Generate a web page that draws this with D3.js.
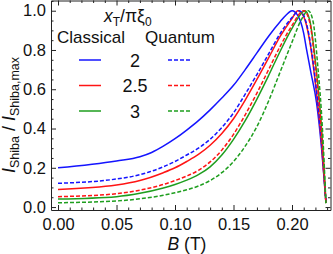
<!DOCTYPE html>
<html>
<head>
<meta charset="utf-8">
<script src="https://cdn.jsdelivr.net/npm/d3@7"></script>
<style>
  body { margin: 0; background: #fff; }
  svg { display: block; font-family: "Liberation Sans", Arial, sans-serif; }
</style>
</head>
<body>
<svg id="chart" width="333" height="254"></svg>
<script>
// B (T) vs normalised Shiba current, pairs of [B, I]
const classical2 = [[0,0.20],[0.05,0.235],[0.07,0.256],[0.08,0.278],[0.09,0.31],[0.10,0.348],[0.11,0.392],[0.12,0.44],[0.13,0.495],[0.14,0.555],[0.15,0.62],[0.16,0.70],[0.17,0.785],[0.18,0.87],[0.19,0.945],[0.195,0.978],[0.2,1.0],[0.205,0.975],[0.21,0.885],[0.2125,0.80],[0.216,0.69],[0.221,0.53],[0.2254,0.29],[0.229,0.03]];
const quantum2   = [[0,0.121],[0.05,0.143],[0.07,0.165],[0.09,0.205],[0.10,0.232],[0.11,0.265],[0.12,0.30],[0.13,0.345],[0.14,0.405],[0.15,0.48],[0.16,0.575],[0.17,0.675],[0.18,0.78],[0.19,0.885],[0.2,0.965],[0.206,1.0],[0.21,0.975],[0.215,0.86],[0.22,0.64],[0.225,0.35],[0.229,0.02]];
const classical25 = [[0,0.090],[0.05,0.112],[0.07,0.135],[0.09,0.175],[0.10,0.20],[0.11,0.232],[0.12,0.268],[0.13,0.315],[0.14,0.375],[0.15,0.45],[0.16,0.545],[0.17,0.65],[0.18,0.76],[0.19,0.87],[0.2,0.96],[0.205,1.0],[0.21,0.97],[0.215,0.85],[0.22,0.63],[0.225,0.34],[0.229,0.02]];
const quantum25  = [[0,0.053],[0.05,0.068],[0.07,0.086],[0.09,0.115],[0.10,0.135],[0.11,0.158],[0.12,0.187],[0.13,0.23],[0.14,0.29],[0.15,0.37],[0.16,0.47],[0.17,0.58],[0.18,0.70],[0.19,0.82],[0.2,0.925],[0.21,1.0],[0.215,0.945],[0.22,0.72],[0.225,0.40],[0.229,0.02]];
const classical3 = [[0,0.041],[0.05,0.053],[0.07,0.07],[0.09,0.097],[0.10,0.115],[0.11,0.137],[0.12,0.165],[0.13,0.205],[0.14,0.265],[0.15,0.345],[0.16,0.44],[0.17,0.55],[0.18,0.67],[0.19,0.795],[0.2,0.91],[0.211,1.0],[0.215,0.955],[0.22,0.74],[0.225,0.42],[0.229,0.02]];
const quantum3   = [[0,0.022],[0.05,0.031],[0.07,0.042],[0.09,0.06],[0.10,0.073],[0.11,0.088],[0.12,0.107],[0.13,0.135],[0.14,0.175],[0.15,0.232],[0.16,0.31],[0.17,0.41],[0.18,0.54],[0.19,0.69],[0.2,0.84],[0.208,0.955],[0.214,1.0],[0.218,0.945],[0.222,0.72],[0.226,0.40],[0.229,0.02]];

const ratios = ["2", "2.5", "3"];
const seriesColors = ["#1414ff", "#ff1414", "#1e9e1e"];
const classicalSeries = [classical2, classical25, classical3];
const quantumSeries = [quantum2, quantum25, quantum3];

const xMajor = [0, 0.05, 0.10, 0.15, 0.20];
const yMajor = [0, 0.2, 0.4, 0.6, 0.8, 1.0];

const svg = d3.select("#chart");
const x = d3.scaleLinear().domain([-0.006, 0.2329]).range([51, 330.5]);
const y = d3.scaleLinear().domain([-0.015, 1.052]).range([210, 0.5]);

const xMinor = d3.range(0, 0.2301, 0.01).filter(v => !xMajor.some(m => Math.abs(m - v) < 1e-6));
const yMinor = d3.range(0, 1.051, 0.05).filter(v => !yMajor.some(m => Math.abs(m - v) < 1e-6));

function frameAxis(axisFn, scale, pos, major, minor, labels, fmt) {
  const g = svg.append("g").attr("transform", pos);
  g.call(axisFn(scale).tickValues(major).tickSize(-5).tickSizeOuter(0)
      .tickPadding(labels ? (axisFn === d3.axisBottom ? 8 : 5) : 0)
      .tickFormat(labels ? d3.format(fmt) : ""));
  const gm = svg.append("g").attr("transform", pos);
  gm.call(axisFn(scale).tickValues(minor).tickSize(-2.5).tickSizeOuter(0).tickFormat(""));
  gm.select(".domain").remove();
  [g, gm].forEach(s => {
    s.selectAll("line").attr("stroke", "#222");
    s.select(".domain").attr("stroke", "#222");
    s.selectAll("text").attr("fill", "#111").style("font-size", "16.5px")
      .style("font-family", "Liberation Sans, Arial, sans-serif");
  });
}

// curves
const line = d3.line().x(d => x(d[0])).y(d => y(d[1])).curve(d3.curveMonotoneX);
const plot = svg.append("g");
classicalSeries.forEach((s, i) => {
  plot.append("path").attr("d", line(s)).attr("fill", "none")
    .attr("stroke", seriesColors[i]).attr("stroke-width", 1.5);
});
quantumSeries.forEach((s, i) => {
  plot.append("path").attr("d", line(s)).attr("fill", "none")
    .attr("stroke", seriesColors[i]).attr("stroke-width", 1.5)
    .attr("stroke-dasharray", "4,2");
});

frameAxis(d3.axisBottom, x, "translate(0,210)", xMajor, xMinor, true, ".2f");
frameAxis(d3.axisTop, x, "translate(0,0.5)", xMajor, xMinor, false);
frameAxis(d3.axisLeft, y, "translate(51,0)", yMajor, yMinor, true, ".1f");
frameAxis(d3.axisRight, y, "translate(330.5,0)", yMajor, yMinor, false);

// axis titles
const xt = svg.append("text").attr("x", 187).attr("y", 250).attr("text-anchor", "middle")
  .style("font-size", "17.5px").attr("fill", "#111");
xt.append("tspan").style("font-style", "italic").text("B");
xt.append("tspan").text(" (T)");

const yt = svg.append("text").attr("transform", "translate(15,115) rotate(-90)")
  .attr("text-anchor", "middle").style("font-size", "18px").attr("fill", "#111");
yt.append("tspan").style("font-style", "italic").text("I");
yt.append("tspan").attr("dy", 4).style("font-size", "12.5px").text("Shiba");
yt.append("tspan").attr("dy", -4).text(" / ");
yt.append("tspan").style("font-style", "italic").text("I");
yt.append("tspan").attr("dy", 4).style("font-size", "12.5px").text("Shiba,max");

// legend
const legend = svg.append("g").attr("fill", "#111");
const title = legend.append("text").attr("x", 104).attr("y", 22).style("font-size", "17.5px");
title.append("tspan").style("font-style", "italic").text("x");
title.append("tspan").attr("dy", 3.5).style("font-size", "12px").text("T");
title.append("tspan").attr("dy", -3.5).text("/πξ");
title.append("tspan").attr("dy", 3.5).style("font-size", "12px").text("0");

legend.append("text").attr("x", 57).attr("y", 43).style("font-size", "17px").text("Classical");
legend.append("text").attr("x", 145).attr("y", 43).style("font-size", "17px").text("Quantum");

const rowY = d3.scaleLinear().domain([0, 1]).range([60, 85.5]);
ratios.forEach((r, i) => {
  const yy = rowY(i);
  legend.append("line").attr("x1", 79).attr("x2", 101).attr("y1", yy).attr("y2", yy)
    .attr("stroke", seriesColors[i]).attr("stroke-width", 1.5);
  legend.append("line").attr("x1", 168).attr("x2", 190).attr("y1", yy).attr("y2", yy)
    .attr("stroke", seriesColors[i]).attr("stroke-width", 1.5).attr("stroke-dasharray", "4,2");
  legend.append("text").attr("x", 135).attr("y", yy + 6.5).attr("text-anchor", "middle")
    .style("font-size", "18px").text(r);
});
</script>
</body>
</html>
